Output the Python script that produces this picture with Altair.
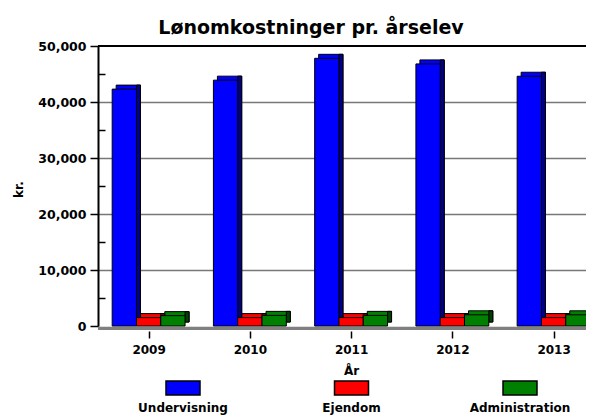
import json
import altair as alt
import pandas as pd

# ---- data ----
years = [2009, 2010, 2011, 2012, 2013]
series = ["Undervisning", "Ejendom", "Administration"]
undervisning = [42300, 43900, 47800, 46800, 44600]
ejendom = [1500, 1500, 1500, 1500, 1500]
administration = [1850, 1900, 1900, 2000, 2000]
y_ticks = [0, 10000, 20000, 30000, 40000, 50000]
y_minor = [5000, 15000, 25000, 35000, 45000]

front_colors = ["#0000FF", "#FF0000", "#008000"]
side_colors = ["#00008B", "#8B0000", "#004000"]

title_text = "Lønomkostninger pr. årselev"
x_title = "År"
y_title = "kr."

FONT = "DejaVu Sans"
W, H = 488, 280

values_by_series = dict(zip(series, [undervisning, ejendom, administration]))
df = pd.DataFrame(
    [{"year": yr, "series": s, "value": values_by_series[s][i]}
     for s in series for i, yr in enumerate(years)]
)

xscale = alt.Scale(domain=[2008.5, 2013.32], nice=False, zero=False)
yscale = alt.Scale(domain=[y_ticks[0], y_ticks[-1]], nice=False)

bars = alt.Chart(df).transform_calculate(
    idx=f"indexof({json.dumps(series)}, datum.series)"
).transform_calculate(
    x0="datum.year - 0.36 + 0.24 * datum.idx",
    x1="datum.year - 0.12 + 0.24 * datum.idx",
)

minor_axis = alt.Axis(
    orient="left", values=y_minor, labels=False, domain=False, grid=False,
    ticks=True, tickSize=7, tickColor="black", tickWidth=1.5, offset=-7, title=None,
)

main_y_axis = alt.Axis(
    orient="left", values=y_ticks, format=",d", title=y_title,
    grid=True,
    gridColor={"condition": {"test": "datum.value == 0 || datum.value == 50000",
                             "value": "transparent"},
               "value": "#777777"},
    gridWidth=1.5,
    domainColor="black", domainWidth=2,
    tickColor="black", tickSize=8, tickWidth=1.5,
    labelFont=FONT, labelFontSize=12.5, labelFontWeight="bold", labelColor="black",
    labelPadding=4,
    titleFont=FONT, titleFontSize=12, titleFontWeight="bold", titleColor="black",
    titleAngle=270, titleAlign="center", titleBaseline="alphabetic",
    titleX=-76, titleY=143,
)

x_axis = alt.Axis(
    values=years, format="d", title=x_title, domain=False, grid=False,
    ticks=True, tickColor="black", tickSize=7, tickWidth=1.5, offset=5,
    labelFont=FONT, labelFontSize=12, labelFontWeight="bold", labelColor="black",
    labelBaseline="alphabetic", labelPadding=15, labelFlush=False, labelOverlap=False,
    titleFont=FONT, titleFontSize=12, titleFontWeight="bold", titleColor="black",
    titleBaseline="alphabetic", titleX=253, titleY=43,
)

# top face (shifted copy in the front colour)
back = bars.mark_rect(
    stroke="black", strokeWidth=1, xOffset=4, x2Offset=4, yOffset=-4, y2Offset=-4
).encode(
    x=alt.X("x0:Q", scale=xscale, axis=None),
    x2="x1:Q",
    y=alt.Y("value:Q", scale=yscale, axis=minor_axis),
    y2=alt.datum(0),
    color=alt.Color("series:N", scale=alt.Scale(domain=series, range=front_colors), legend=None),
)

# dark side face
side = bars.mark_rect(
    stroke="black", strokeWidth=1, x2Offset=4, yOffset=-4, y2Offset=-4
).encode(
    x=alt.X("x1:Q", scale=xscale, axis=None),
    x2="x1:Q",
    y=alt.Y("value:Q", scale=yscale, axis=None),
    y2=alt.datum(0),
    color=alt.Color("series:N", scale=alt.Scale(domain=series, range=side_colors), legend=None),
)

front = bars.mark_rect(stroke="black", strokeWidth=1).encode(
    x=alt.X("x0:Q", scale=xscale, axis=x_axis),
    x2="x1:Q",
    y=alt.Y("value:Q", scale=yscale, axis=main_y_axis),
    y2=alt.datum(0),
    color=alt.Color("series:N", scale=alt.Scale(domain=series, range=front_colors), legend=None),
)

floor = alt.Chart(pd.DataFrame({"v": [y_ticks[0]]})).mark_rule(
    color="#808080", strokeWidth=3, xOffset=4, yOffset=2.5
).encode(y=alt.Y("v:Q", scale=yscale, axis=None))

top = alt.Chart(pd.DataFrame({"v": [y_ticks[-1]]})).mark_rule(
    color="black", strokeWidth=2
).encode(y=alt.Y("v:Q", scale=yscale, axis=None))

leg_df = pd.DataFrame({"series": series})
leg_x = alt.X("series:N", scale=alt.Scale(type="point", domain=series, range=[85, 422], padding=0), axis=None)

leg_sw = alt.Chart(leg_df).mark_point(
    shape="M-1,-0.41L1,-0.41L1,0.41L-1,0.41Z", size=1156, filled=True, opacity=1,
    stroke="black", strokeWidth=1.5,
).encode(
    x=leg_x,
    y=alt.value(342),
    fill=alt.Fill("series:N", scale=alt.Scale(domain=series, range=front_colors), legend=None),
)

leg_tx = alt.Chart(leg_df).mark_text(
    font=FONT, fontSize=12, fontWeight="bold", color="black", baseline="top", dy=15
).encode(
    x=leg_x,
    y=alt.value(342),
    text="series:N",
)

chart = alt.layer(back, side, front, floor, top, leg_sw, leg_tx).resolve_scale(
    x="independent", color="independent", fill="independent"
).resolve_axis(y="independent").properties(
    width=W, height=H,
    autosize=alt.AutoSizeParams(type="none"),
    padding={"left": 90, "top": 38, "right": 0, "bottom": 91},
    title=alt.TitleParams(
        title_text, font=FONT, fontSize=19, fontWeight="bold", color="black",
        anchor="middle", frame="group", dx=-31, dy=20, offset=7, baseline="alphabetic",
    ),
).configure_view(stroke=None).configure(background="white")

chart.save("out.html", embed_options={"renderer": "svg", "actions": False})
